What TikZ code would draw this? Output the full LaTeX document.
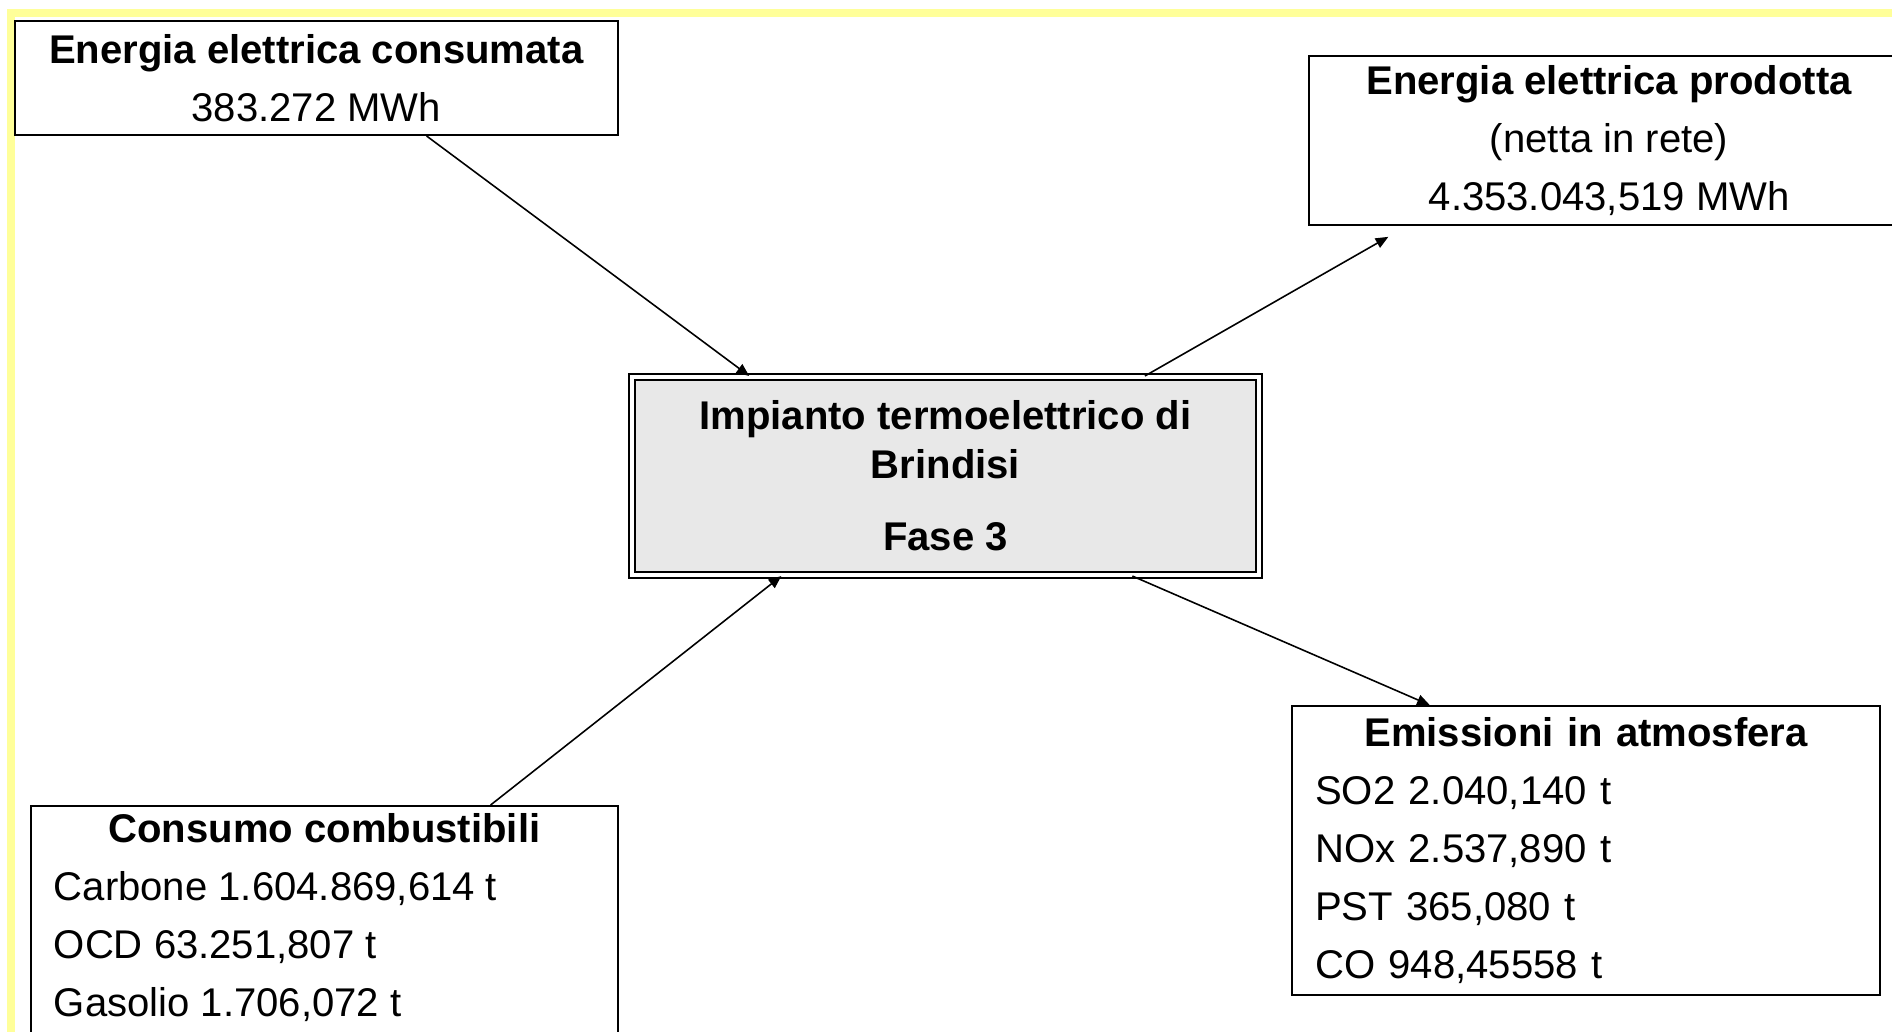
\documentclass[tikz,border=0pt]{standalone}
\usepackage{fontspec}
\setmainfont{Liberation Sans}
\usepackage{xcolor}
\usepackage{tikz}
\usetikzlibrary{arrows.meta, positioning, calc}
\definecolor{frameyellow}{RGB}{255,255,153}
\definecolor{plantgray}{RGB}{232,232,232}

\begin{document}
\begin{tikzpicture}[
		every node/.style={font=\fontsize{11.4}{16.5}\selectfont},
		databox/.style={rectangle, draw, line width=0.6pt, inner sep=0pt},
		plant/.style={rectangle, draw, line width=0.6pt, double, double distance=1.2pt, fill=plantgray, minimum width=6.27cm, minimum height=1.98cm, align=center, inner sep=0pt, font=\bfseries\fontsize{11.4}{13.9}\selectfont},
		arrow/.style={-{Triangle[length=3.6pt, width=3pt]}, line width=0.45pt}
		]
		
		% Frame
		\useasboundingbox (0,0) rectangle (18.92,-10.31);
		\clip (0,0) rectangle (18.92,-10.31);
		\draw[frameyellow, line width=0.08cm] (0.11,-0.13) rectangle (19.5,-11);
		
		% Nodes
		\node[plant] (centre) at (9.455,-4.76) {Impianto termoelettrico di\\Brindisi\\[0.23cm]Fase 3};
		\node[databox, minimum width=6.03cm, minimum height=1.14cm, align=center, above left=2.40cm and 0.12cm of centre] (consumata) {\textbf{Energia elettrica consumata}\\383.272 MWh};
		\node[databox, minimum width=6cm, minimum height=1.69cm, align=center, above right=1.50cm and 0.48cm of centre] (prodotta) {\textbf{Energia elettrica prodotta}\\(netta in rete)\\4.353.043,519 MWh};
		\node[databox, inner xsep=0.23cm, inner ysep=0.07cm, below left=2.29cm and 0.12cm of centre] (combustibili) {\parbox[c][3cm][t]{5.41cm}{\makebox[5.41cm]{\textbf{Consumo combustibili}}\\Carbone 1.604.869,614 t\\OCD 63.251,807 t\\Gasolio 1.706,072 t}};
		\node[databox, text width=5.42cm, inner xsep=0.23cm, minimum height=2.89cm, align=left, below right=1.29cm and 0.31cm of centre] (emissioni) {\makebox[\hsize]{\textbf{Emissioni in atmosfera}}\\SO2 2.040,140 t\\NOx 2.537,890 t\\PST 365,080 t\\CO 948,45558 t};
		
		% Flow arrows
		\draw[arrow] ($(consumata.south west)!0.682!(consumata.south east)$) -- ($(centre.north west)!0.188!(centre.north east)$);
		\draw[arrow, shorten >=0.22cm] ($(centre.north west)!0.817!(centre.north east)$) -- ($(prodotta.south west)!0.165!(prodotta.south east)$);
		\draw[arrow] ($(combustibili.north west)!0.782!(combustibili.north east)$) -- ($(centre.south west)!0.239!(centre.south east)$);
		\draw[arrow] ($(centre.south west)!0.797!(centre.south east)$) -- ($(emissioni.north west)!0.235!(emissioni.north east)$);
		
	\end{tikzpicture}
\end{document}
